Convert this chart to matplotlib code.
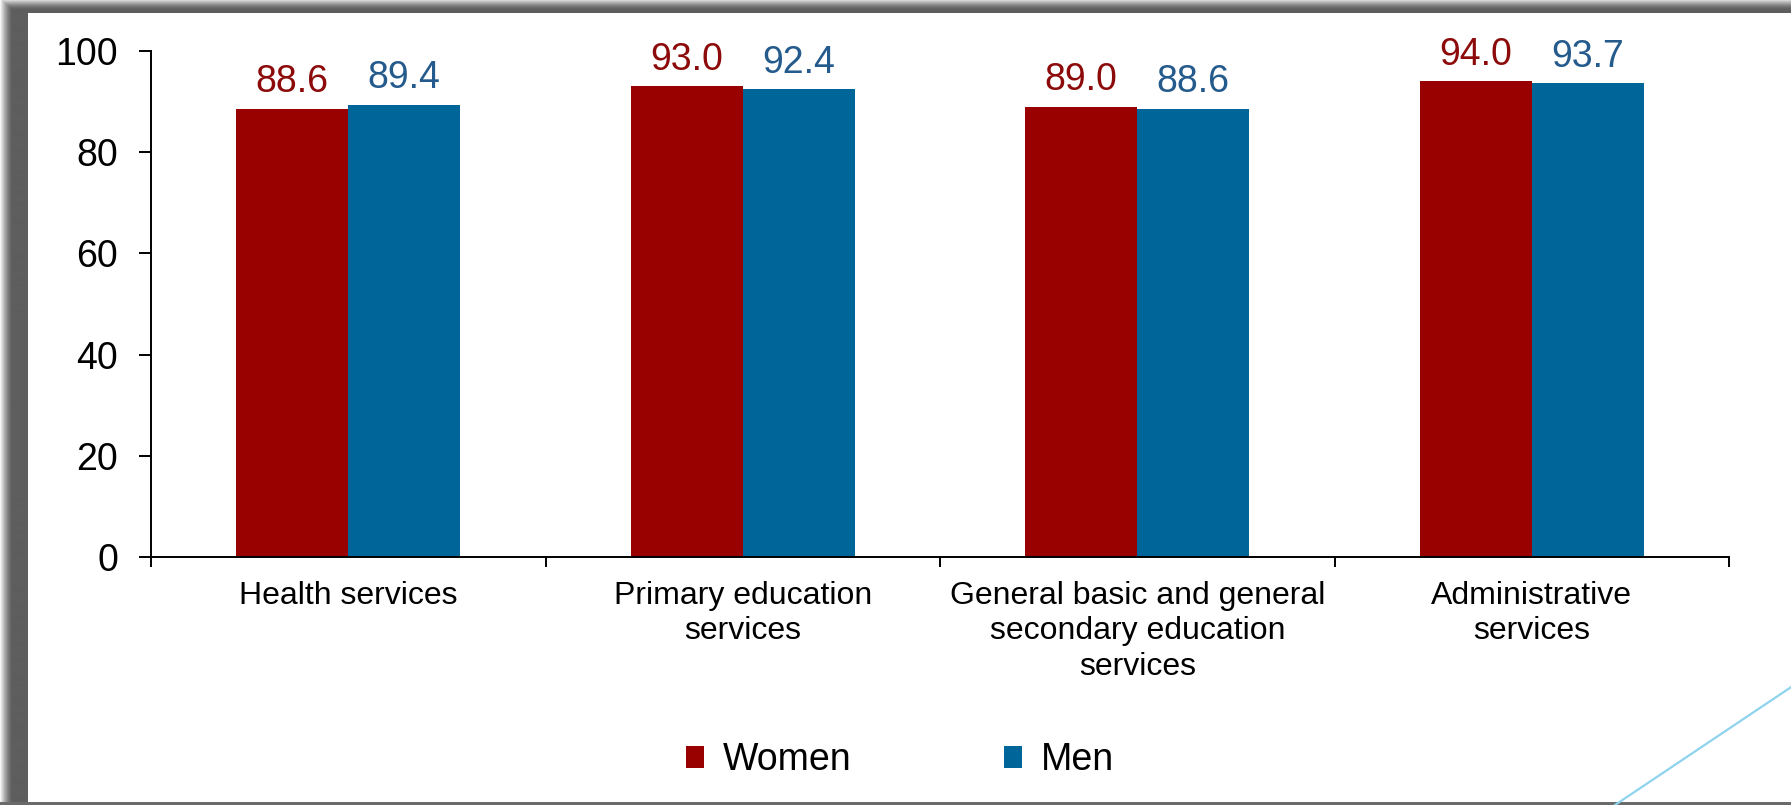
import matplotlib.pyplot as plt
import numpy as np
from matplotlib.lines import Line2D

plt.rcParams['font.family'] = ['Liberation Sans', 'DejaVu Sans']

categories = ['Health services', 'Primary education\nservices',
              'General basic and general\nsecondary education\nservices',
              'Administrative\nservices']
women = [88.6, 93.0, 89.0, 94.0]
men = [89.4, 92.4, 88.6, 93.7]
yticks = [0, 20, 40, 60, 80, 100]

W, H = 1791, 805
fig = plt.figure(figsize=(W / 100, H / 100), dpi=100)

# fondo: sombra gris del marco tipo diapositiva
bg = fig.add_axes([0, 0, 1, 1], zorder=-10)
xx, yy = np.meshgrid(np.arange(W), np.arange(H))
img = np.ones((H, W))
dx = np.clip(28 - xx, 0, None)
dy = np.clip(14 - yy, 0, None)
left = 0.37 + 0.6 * np.clip((dx - 16) / 12, 0, 1) ** 1.5
top = 0.37 + 0.55 * np.clip((dy - 4) / 10, 0, 1) ** 1.5
img = np.where(dx > 0, left, img)
img = np.where((dy > 0) & (dx == 0), top, img)
img = np.where((dy > 0) & (dx > 0), np.maximum(left, top), img)
img[H - 3:, :] = 0.42
bg.imshow(img, cmap='gray', vmin=0, vmax=1, extent=(0, W, H, 0), aspect='auto')
bg.add_line(Line2D([1615, 1791 + 30], [H, 687 - 30 * 117 / 176],
                   color='#8fd3ee', lw=1.6))
bg.set_xlim(0, W)
bg.set_ylim(H, 0)
bg.axis('off')

ax = fig.add_axes([151 / W, 248 / H, (1729 - 151) / W, (557 - 51) / H])
ax.patch.set_alpha(0)

x = np.arange(len(categories))
w = 0.284
b1 = ax.bar(x - w / 2, women, w, color='#990000', label='Women')
b2 = ax.bar(x + w / 2, men, w, color='#006699', label='Men')

for rect, v in zip(b1, women):
    ax.annotate(f'{v:.1f}', (rect.get_x() + rect.get_width() / 2, v),
                xytext=(0, 6), textcoords='offset points',
                ha='center', va='bottom', fontsize=27, color='#8c0a0a')
for rect, v in zip(b2, men):
    ax.annotate(f'{v:.1f}', (rect.get_x() + rect.get_width() / 2, v),
                xytext=(0, 6), textcoords='offset points',
                ha='center', va='bottom', fontsize=27, color='#245a8c')

ax.set_xlim(-0.5, len(categories) - 0.5)
ax.set_ylim(0, 100)
ax.set_yticks(yticks)
ax.tick_params(axis='y', direction='out', length=8.6, width=1.4,
               labelsize=27, pad=15)

ax.set_xticks(np.arange(len(categories) + 1) - 0.5)
ax.set_xticklabels([])
ax.set_xticks(x, minor=True)
ax.set_xticklabels(categories, minor=True, fontsize=23, linespacing=1.25)
ax.tick_params(axis='x', which='major', direction='out', length=7, width=1.4)
ax.tick_params(axis='x', which='minor', length=0, pad=17)

for s in ['top', 'right']:
    ax.spines[s].set_visible(False)
for s in ['left', 'bottom']:
    ax.spines[s].set_linewidth(1.4)

fig.legend(handles=[b1, b2], loc='center', bbox_to_anchor=(900 / W, 45 / H),
           ncol=2, frameon=False, fontsize=27, handlelength=0.48,
           handleheight=0.53, handletextpad=0.5, columnspacing=4.05)

fig.savefig('out.png', dpi=100)
